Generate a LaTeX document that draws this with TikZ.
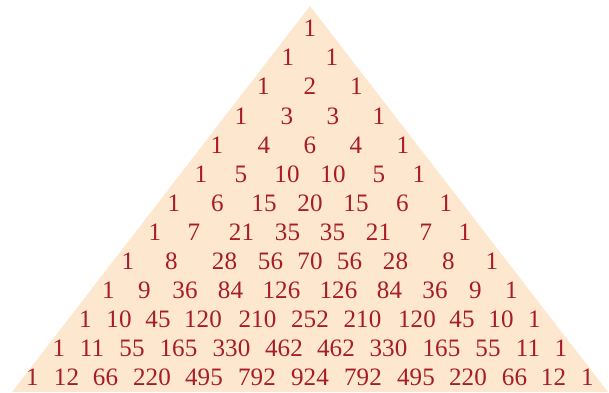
\documentclass[tikz,border=0pt]{standalone}
\usepackage{fontspec}
\setmainfont{Liberation Serif}
\definecolor{pascalfill}{RGB}{253,232,207}
\definecolor{pascalred}{RGB}{168,28,40}

% one row of the triangle: row number, list of offset/value
\newcommand\pascalrow[2]{%
  \foreach \dx/\v [count=\k from 0] in {#2}
    \node[entry] (p#1-\k) at (310+\dx, 37+29*#1) {\v};
}

\begin{document}
\begin{tikzpicture}[
  x=0.75pt, y=-0.75pt,
  entry/.style={anchor=base, inner sep=0pt, text=pascalred,
    font=\fontsize{18.8}{22}\selectfont}
]
\useasboundingbox (0,0) rectangle (609,392);
% the triangle behind the numbers
\fill[pascalfill] (310,6) -- (12,392) -- (608,392) -- cycle;

\pascalrow{0}{0/1}
\pascalrow{1}{-22/1,22/1}
\pascalrow{2}{-46.5/1,0/2,46.5/1}
\pascalrow{3}{-69/1,-23/3,23/3,69/1}
\pascalrow{4}{-93/1,-46/4,0/6,46/4,93/1}
\pascalrow{5}{-109/1,-69/5,-23/10,23/10,69/5,109/1}
\pascalrow{6}{-136/1,-92.5/6,-46/15,0/20,46/15,92.5/6,136/1}
\pascalrow{7}{-155/1,-116/7,-68.5/21,-22.5/35,22.5/35,68.5/21,116/7,155/1}
\pascalrow{8}{-182/1,-138.5/8,-85.5/28,-39.5/56,0/70,39.5/56,85.5/28,138.5/8,182/1}
\pascalrow{9}{-201.5/1,-165.5/9,-125/36,-79.5/84,-28.5/126,28.5/126,79.5/84,125/36,165.5/9,201.5/1}
\pascalrow{10}{-224.5/1,-191/10,-152/45,-107/120,-52.5/210,0/252,52.5/210,107/120,152/45,191/10,224.5/1}
\pascalrow{11}{-251/1,-218/11,-178/55,-131.5/165,-78.5/330,-26/462,26/462,78.5/330,131.5/165,178/55,218/11,251/1}
\pascalrow{12}{-277.5/1,-243.5/12,-204.5/66,-158/220,-106/495,-53/792,0/924,53/792,106/495,158/220,204.5/66,243.5/12,277.5/1}
\end{tikzpicture}
\end{document}
